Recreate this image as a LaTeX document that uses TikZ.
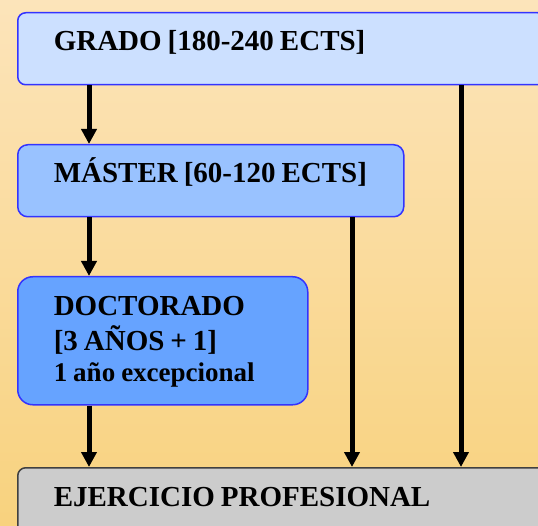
\documentclass[tikz,border=0pt]{standalone}
\usepackage{fontspec}
\setmainfont{Liberation Serif}
\usetikzlibrary{arrows.meta}

\definecolor{fondoarriba}{HTML}{FCE4BA}
\definecolor{fondoabajo}{HTML}{F8D27E}
\definecolor{borde}{HTML}{3333FF}
\definecolor{gradofill}{HTML}{CCE0FF}
\definecolor{masterfill}{HTML}{99C2FF}
\definecolor{doctorfill}{HTML}{66A3FF}
\definecolor{ejerfill}{HTML}{CCCCCC}
\definecolor{ejerborde}{HTML}{404040}

\tikzset{
  etapa/.style={draw=borde, line width=1.5pt, anchor=north west, inner xsep=36pt,
    inner ysep=0pt, align=left, font=\bfseries\fontsize{29}{35}\selectfont,
    execute at begin node={\spaceskip=6pt\relax}},
  flecha/.style={line width=5pt, -{Triangle[width=15pt,length=15pt]}}
}

\begin{document}
\begin{tikzpicture}[x=1pt,y=-1pt]

% Background
\useasboundingbox (0,0) rectangle (538,526);
\clip (0,0) rectangle (538,526);
\shade[top color=fondoarriba, bottom color=fondoabajo] (0,0) rectangle (538,526);

% Draw the boxes
\node[etapa, fill=gradofill, rounded corners=8pt, text width=456pt,
  text height=38pt, text depth=34pt] (grado) at (17,12) {GRADO [180-240 ECTS]};
\node[etapa, fill=masterfill, rounded corners=10pt, text width=314pt,
  text height=38pt, text depth=34pt] (master) at (17,144) {\mbox{MÁSTER [60-120 ECTS]}};
\node[etapa, fill=doctorfill, rounded corners=15pt, text width=218pt,
  text height=39pt, text depth=89pt] (doctor) at (17,276)
  {DOCTORADO\\{}[3 AÑOS + 1]\\[-4pt]{\fontsize{27}{30}\selectfont 1 año excepcional}};
\node[etapa, draw=ejerborde, fill=ejerfill, rounded corners=8pt, text width=456pt,
  text height=39pt, text depth=34pt] (ejercicio) at (17,467) {EJERCICIO PROFESIONAL};

% Draw the arrows
\draw[flecha] ([xshift=72pt]grado.south west) -- ([xshift=72pt]master.north west);
\draw[flecha] ([xshift=72pt]master.south west) -- ([xshift=72pt]doctor.north west);
\draw[flecha] ([xshift=72pt]doctor.south west) -- ([xshift=72pt]ejercicio.north west);
\draw[flecha] ([xshift=335pt]master.south west) -- ([xshift=335pt]ejercicio.north west);
\draw[flecha] ([xshift=444pt]grado.south west) -- ([xshift=444pt]ejercicio.north west);

\end{tikzpicture}
\end{document}
